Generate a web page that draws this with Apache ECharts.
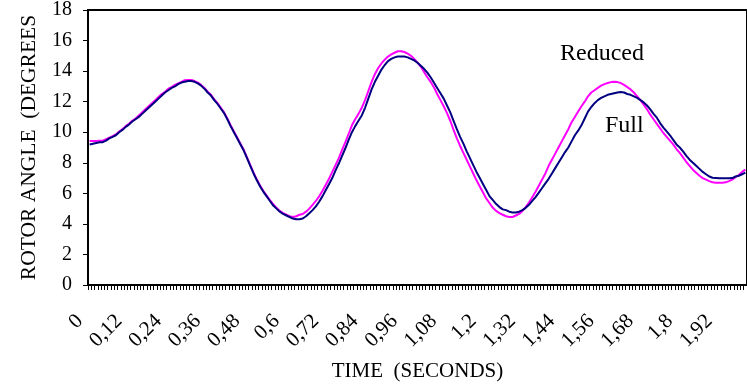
<!DOCTYPE html>
<html>
<head>
<meta charset="utf-8">
<script src="https://cdn.jsdelivr.net/npm/echarts@6/dist/echarts.min.js"></script>
<style>
  html, body { margin: 0; padding: 0; background: #fff; }
  #chart { width: 747px; height: 387px; }
</style>
</head>
<body>
<div id="chart"></div>
<script>
// rotor angle response, sampled every 0.01 s from 0 to 2.00 s
const STEP_COUNT = 201;
const timeLabels = [];
for (let i = 0; i < STEP_COUNT; i++) {
  timeLabels.push(String(i / 100).replace(".", ","));
}

const fullAngle = [
  9.2, 9.25, 9.3, 9.35, 9.35, 9.45, 9.6, 9.7, 9.8, 10.0,
  10.15, 10.35, 10.5, 10.7, 10.85, 11.0, 11.2, 11.4, 11.6, 11.8,
  12.0, 12.2, 12.4, 12.6, 12.75, 12.9, 13.0, 13.15, 13.25, 13.3,
  13.35, 13.35, 13.3, 13.2, 13.05, 12.85, 12.6, 12.4, 12.1, 11.85,
  11.55, 11.25, 10.85, 10.4, 10.0, 9.6, 9.2, 8.8, 8.3, 7.8,
  7.3, 6.85, 6.45, 6.1, 5.8, 5.5, 5.2, 5.0, 4.8, 4.65,
  4.55, 4.45, 4.35, 4.3, 4.3, 4.35, 4.5, 4.7, 4.9, 5.15,
  5.45, 5.8, 6.2, 6.6, 7.0, 7.5, 7.95, 8.45, 8.95, 9.5,
  10.0, 10.4, 10.75, 11.1, 11.6, 12.2, 12.8, 13.3, 13.7, 14.1,
  14.4, 14.65, 14.8, 14.9, 14.95, 14.95, 14.95, 14.9, 14.8, 14.7,
  14.55, 14.35, 14.15, 13.9, 13.6, 13.25, 12.9, 12.55, 12.2, 11.75,
  11.3, 10.75, 10.2, 9.7, 9.25, 8.75, 8.3, 7.85, 7.4, 7.0,
  6.6, 6.2, 5.8, 5.55, 5.3, 5.1, 4.95, 4.9, 4.8, 4.75,
  4.75, 4.8, 4.9, 5.05, 5.25, 5.5, 5.75, 6.05, 6.35, 6.65,
  6.95, 7.3, 7.65, 8.0, 8.35, 8.7, 9.0, 9.4, 9.8, 10.1,
  10.45, 10.9, 11.35, 11.65, 11.9, 12.1, 12.25, 12.35, 12.45, 12.5,
  12.55, 12.6, 12.63, 12.6, 12.5, 12.45, 12.35, 12.25, 12.1, 11.95,
  11.75, 11.5, 11.2, 10.95, 10.6, 10.3, 10.05, 9.8, 9.5, 9.2,
  9.0, 8.75, 8.45, 8.2, 8.0, 7.8, 7.6, 7.4, 7.25, 7.1,
  7.02, 7.0, 6.98, 6.98, 6.98, 6.98, 7.0, 7.1, 7.15, 7.25,
  7.35
];

const reducedAngle = [
  9.42, 9.42, 9.42, 9.45, 9.45, 9.55, 9.65, 9.75, 9.85, 10.05,
  10.2, 10.4, 10.55, 10.75, 10.9, 11.1, 11.3, 11.5, 11.7, 11.9,
  12.1, 12.3, 12.5, 12.65, 12.85, 12.95, 13.1, 13.2, 13.3, 13.4,
  13.42, 13.42, 13.35, 13.25, 13.1, 12.9, 12.65, 12.45, 12.15, 11.9,
  11.6, 11.3, 10.9, 10.45, 10.05, 9.65, 9.25, 8.85, 8.35, 7.85,
  7.35, 6.9, 6.5, 6.15, 5.85, 5.55, 5.3, 5.05, 4.85, 4.7,
  4.6, 4.5, 4.45, 4.5, 4.6, 4.65, 4.8, 5.0, 5.25, 5.5,
  5.8, 6.15, 6.55, 6.95, 7.4, 7.85, 8.3, 8.85, 9.35, 9.9,
  10.45, 10.85, 11.2, 11.6, 12.1, 12.7, 13.3, 13.8, 14.2, 14.5,
  14.75, 14.95, 15.1, 15.2, 15.3, 15.3, 15.25, 15.15, 15.0, 14.8,
  14.55, 14.3, 13.95, 13.6, 13.3, 12.95, 12.5, 12.1, 11.7, 11.25,
  10.75, 10.15, 9.6, 9.1, 8.65, 8.2, 7.75, 7.3, 6.85, 6.45,
  6.05, 5.65, 5.35, 5.05, 4.85, 4.7, 4.6, 4.5, 4.45, 4.45,
  4.55, 4.65, 4.85, 5.1, 5.4, 5.75, 6.1, 6.5, 6.9, 7.3,
  7.8, 8.2, 8.6, 9.0, 9.4, 9.8, 10.2, 10.65, 11.0, 11.35,
  11.7, 12.0, 12.35, 12.6, 12.75, 12.9, 13.05, 13.15, 13.22, 13.28,
  13.3, 13.28, 13.22, 13.1, 12.95, 12.8, 12.6, 12.35, 12.1, 11.8,
  11.5, 11.15, 10.85, 10.55, 10.25, 9.95, 9.7, 9.45, 9.2, 8.9,
  8.65, 8.35, 8.05, 7.8, 7.55, 7.35, 7.15, 7.0, 6.9, 6.8,
  6.72, 6.7, 6.7, 6.7, 6.72, 6.8, 6.9, 7.05, 7.2, 7.4,
  7.55
];

const FONT = "'Liberation Serif', 'Times New Roman', serif";
const INK = "#000";

const chart = echarts.init(document.getElementById("chart"), null, { renderer: "canvas" });

chart.setOption({
  animation: false,
  backgroundColor: "#fff",
  textStyle: { fontFamily: FONT, color: INK },
  grid: {
    left: 88, top: 9, right: -4, bottom: 102,
    show: true, borderColor: INK, borderWidth: 2, backgroundColor: "transparent",
  },
  xAxis: {
    type: "category",
    data: timeLabels,
    boundaryGap: true,
    name: "TIME  (SECONDS)",
    nameLocation: "middle",
    nameGap: 76,
    nameTextStyle: { fontFamily: FONT, fontSize: 21, color: INK },
    axisLine: { lineStyle: { color: INK, width: 2 } },
    axisTick: { show: true, interval: 0, length: 5, lineStyle: { color: INK, width: 1 } },
    axisLabel: {
      interval: 11,
      rotate: 45,
      margin: 23,
      // nudge the rotated labels left, like the spreadsheet placement
      padding: [0, 14, 28, 0],
      fontFamily: FONT,
      fontSize: 21,
      color: INK,
    },
    splitLine: { show: false },
  },
  yAxis: {
    type: "value",
    min: 0,
    max: 18,
    interval: 2,
    name: "ROTOR ANGLE  (DEGREES",
    nameLocation: "middle",
    nameGap: 48,
    nameTextStyle: { fontFamily: FONT, fontSize: 21.5, color: INK },
    axisLine: { show: true, lineStyle: { color: INK, width: 2 } },
    axisTick: { show: true, length: 5, lineStyle: { color: INK, width: 1 } },
    axisLabel: { margin: 16, fontFamily: FONT, fontSize: 20, color: INK },
    splitLine: { show: false },
  },
  series: [
    {
      name: "Reduced",
      type: "line",
      data: reducedAngle,
      symbol: "none",
      lineStyle: { color: "#ff00ff", width: 2 },
      itemStyle: { color: "#ff00ff" },
    },
    {
      name: "Full",
      type: "line",
      data: fullAngle,
      symbol: "none",
      lineStyle: { color: "#000080", width: 2 },
      itemStyle: { color: "#000080" },
    },
  ],
  graphic: [
    {
      type: "text", left: 560, top: 42,
      style: { text: "Reduced", fontFamily: FONT, fontSize: 24, fill: INK },
    },
    {
      type: "text", left: 605, top: 114,
      style: { text: "Full", fontFamily: FONT, fontSize: 24, fill: INK },
    },
  ],
});
</script>
</body>
</html>
